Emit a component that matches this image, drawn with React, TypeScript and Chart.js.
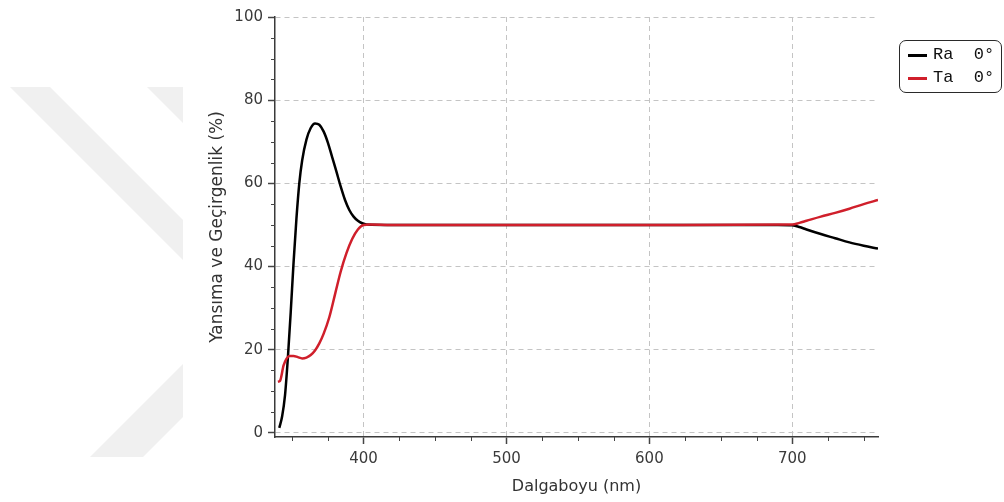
import React, { useEffect, useRef } from "react";
import { Chart, registerables } from "chart.js";

Chart.register(...registerables);

// Wavelength (nm) and reflectance Ra 0°
const raWavelength = [341, 343, 345, 347, 349, 351, 353, 355, 357, 360, 363, 366, 369, 372, 375, 378, 381, 384, 387, 390, 393, 396, 399, 402, 420, 500, 600, 690, 700, 705, 710, 720, 730, 740, 750, 760];
const raValues = [1.2, 4, 9, 18, 29, 41, 51.5, 60, 65.5, 70.5, 73.3, 74.4, 74.1, 72.5, 69.8, 66.3, 62.8, 59.2, 56, 53.6, 52, 51, 50.4, 50.1, 50, 50, 50, 50, 49.9, 49.5, 48.9, 47.8, 46.8, 45.8, 45, 44.3];

// Wavelength (nm) and transmittance Ta 0°
const taWavelength = [340, 341.5, 344, 346, 348, 351, 354, 357, 360, 363, 366, 369, 372, 376, 380, 384, 388, 392, 396, 400, 404, 420, 500, 600, 700, 705, 710, 720, 730, 740, 750, 760];
const taValues = [12.3, 12.5, 16.2, 17.8, 18.5, 18.5, 18.2, 17.9, 18.1, 18.7, 19.8, 21.5, 23.8, 27.8, 33.3, 38.8, 43.2, 46.6, 48.9, 50, 50.1, 50, 50, 50, 50.1, 50.5, 51, 52, 52.9, 53.9, 55, 56];

const xTickValues = [400, 500, 600, 700];
const yTickValues = [0, 20, 40, 60, 80, 100];

const seriesLabels = ["Ra  0°", "Ta  0°"];
const seriesColors = ["#000000", "#d01f2b"];

const xTitle = "Dalgaboyu (nm)";
const yTitle = "Yansıma ve Geçirgenlik (%)";

const watermark = {
  id: "watermark",
  beforeDraw(chart: any) {
    const { ctx } = chart;
    ctx.save();
    ctx.beginPath();
    ctx.rect(0, 0, 183, 502);
    ctx.clip();
    ctx.fillStyle = "#f0f0f0";
    const polys = [
      [[10, 87], [50, 87], [250, 287], [210, 287]],
      [[147, 87], [200, 87], [200, 140]],
      [[90, 457], [143, 457], [200, 400], [200, 347]],
    ];
    for (const p of polys) {
      ctx.beginPath();
      ctx.moveTo(p[0][0], p[0][1]);
      for (let i = 1; i < p.length; i++) ctx.lineTo(p[i][0], p[i][1]);
      ctx.closePath();
      ctx.fill();
    }
    ctx.restore();
  },
};

const minorTicks = {
  id: "minorTicks",
  afterDraw(chart: any) {
    const { ctx, chartArea } = chart;
    const x = chart.scales.x;
    const y = chart.scales.y;
    ctx.save();
    ctx.strokeStyle = "#444";
    ctx.lineWidth = 1;
    ctx.beginPath();
    for (let v = 350; v < x.max; v += 25) {
      if (v % 100 === 0) continue;
      const px = Math.round(x.getPixelForValue(v)) + 0.5;
      ctx.moveTo(px, chartArea.bottom);
      ctx.lineTo(px, chartArea.bottom + 4);
    }
    for (let v = 5; v < y.max; v += 5) {
      if (v % 20 === 0) continue;
      const py = Math.round(y.getPixelForValue(v)) + 0.5;
      ctx.moveTo(chartArea.left, py);
      ctx.lineTo(chartArea.left - 4, py);
    }
    ctx.stroke();
    ctx.restore();
  },
};

export default function App() {
  const canvasRef = useRef<HTMLCanvasElement | null>(null);

  useEffect(() => {
    const canvas = canvasRef.current;
    if (!canvas) return;
    const tickFont = { family: "'DejaVu Sans', sans-serif", size: 15 };
    const chart = new Chart(canvas, {
      type: "line",
      data: {
        datasets: [
          {
            label: seriesLabels[0],
            data: raWavelength.map((w, i) => ({ x: w, y: raValues[i] })),
            borderColor: seriesColors[0],
            backgroundColor: seriesColors[0],
            borderWidth: 2.5,
            pointRadius: 0,
            cubicInterpolationMode: "monotone",
            order: 1,
          },
          {
            label: seriesLabels[1],
            data: taWavelength.map((w, i) => ({ x: w, y: taValues[i] })),
            borderColor: seriesColors[1],
            backgroundColor: seriesColors[1],
            borderWidth: 2.5,
            pointRadius: 0,
            cubicInterpolationMode: "monotone",
            order: 0,
          },
        ],
      },
      options: {
        animation: false,
        responsive: false,
        devicePixelRatio: 1,
        layout: { padding: { left: 203, right: 126, top: 17, bottom: 2 } },
        plugins: {
          legend: { display: false },
          tooltip: { enabled: false },
        },
        scales: {
          x: {
            type: "linear",
            min: 338,
            max: 760,
            afterBuildTicks: (s: any) => {
              s.ticks = xTickValues.map((v) => ({ value: v }));
            },
            afterFit: (s: any) => {
              s.height = 63;
            },
            ticks: { font: tickFont, color: "#3a3a3a", padding: 6, maxRotation: 0, autoSkip: false },
            grid: { color: "#c4c4c4", lineWidth: 1, tickLength: 7, tickColor: "#444", tickWidth: 1.5 },
            border: { display: true, color: "#3a3a3a", width: 1.5, dash: [5, 4] },
            title: {
              display: true,
              text: xTitle,
              font: { family: "'DejaVu Sans', sans-serif", size: 16 },
              color: "#333",
              padding: { top: 4, bottom: 4 },
            },
          },
          y: {
            type: "linear",
            min: -1,
            max: 100,
            afterBuildTicks: (s: any) => {
              s.ticks = yTickValues.map((v) => ({ value: v }));
            },
            afterFit: (s: any) => {
              s.width = 72;
            },
            ticks: { font: tickFont, color: "#3a3a3a", padding: 5, autoSkip: false },
            grid: { color: "#c4c4c4", lineWidth: 1, tickLength: 7, tickColor: "#444", tickWidth: 1.5 },
            border: { display: true, color: "#3a3a3a", width: 1.5, dash: [5, 4] },
            title: {
              display: true,
              text: yTitle,
              font: { family: "'DejaVu Sans', sans-serif", size: 17 },
              color: "#333",
              padding: { top: 4, bottom: 4 },
            },
          },
        },
      },
      plugins: [watermark, minorTicks],
    } as any);
    return () => chart.destroy();
  }, []);

  return (
    <div style={{ position: "fixed", left: 0, top: 0, width: 1004, height: 502, background: "#fff" }}>
      <canvas ref={canvasRef} width={1004} height={502} style={{ display: "block" }} />
      <div
        style={{
          position: "absolute",
          left: 899,
          top: 40,
          width: 101,
          height: 51,
          border: "1.5px solid #2a2a2a",
          borderRadius: 7,
          fontFamily: "'Liberation Mono', monospace",
          fontSize: 17,
          color: "#111",
        }}
      >
        {seriesLabels.map((lbl, i) => (
          <div
            key={lbl}
            style={{ position: "absolute", left: 8, top: i === 0 ? 4 : 27, height: 20, display: "flex", alignItems: "center", whiteSpace: "pre" }}
          >
            <span style={{ display: "inline-block", width: 19, height: 3, background: seriesColors[i], marginRight: 6 }} />
            <span style={{ lineHeight: "20px" }}>{lbl}</span>
          </div>
        ))}
      </div>
    </div>
  );
}
